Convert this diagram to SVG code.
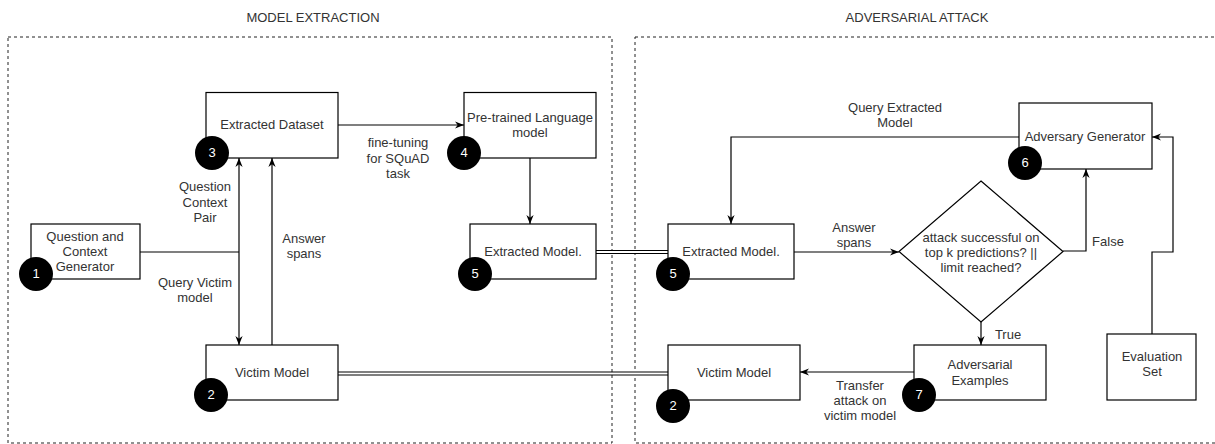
<svg xmlns="http://www.w3.org/2000/svg" width="1215" height="444" viewBox="0 0 1215 444">
<style>
text{font-family:"Liberation Sans",Arial,sans-serif;font-size:13px;fill:#333;text-anchor:middle}
.box{fill:#fff;stroke:#000;stroke-width:1.2}
.frame{fill:none;stroke:#222;stroke-width:1;stroke-dasharray:3 3}
.badge circle{fill:#000}
.badge text{fill:#fff}
.c{fill:none;stroke:#000;stroke-width:1.2}
.dbl{fill:none;stroke:#000;stroke-width:4}
.dblw{fill:none;stroke:#fff;stroke-width:1.8}
</style>
<defs>
<marker id="ar" viewBox="0 0 10 10" markerWidth="9" markerHeight="9" refX="10" refY="5" orient="auto" markerUnits="userSpaceOnUse">
<path d="M0,1 L10,5 L0,9 L3,5 z" fill="#000"/>
</marker>
</defs>
<rect width="1215" height="444" fill="#fff"/>

<g id="frames">
<text x="313" y="22">MODEL EXTRACTION</text>
<rect class="frame" x="8" y="37" width="604" height="406"/>
<text x="917" y="22">ADVERSARIAL ATTACK</text>
<rect class="frame" x="635" y="37" width="600" height="406"/>
</g>

<g id="connectors">
<path class="c" d="M140,252 H239"/>
<path class="c" d="M239,252 V158" marker-end="url(#ar)"/>
<path class="c" d="M239,252 V345" marker-end="url(#ar)"/>
<path class="c" d="M272,345 V158" marker-end="url(#ar)"/>
<path class="c" d="M338,125 H464" marker-end="url(#ar)"/>
<path class="c" d="M530,158 V224" marker-end="url(#ar)"/>
<path class="dbl" d="M596,252 H668"/><path class="dblw" d="M596,252 H668"/>
<path class="dbl" d="M338,373.5 H668"/><path class="dblw" d="M338,373.5 H668"/>
<path class="c" d="M1019,137 H731 V224" marker-end="url(#ar)"/>
<path class="c" d="M794,252 H899" marker-end="url(#ar)"/>
<path class="c" d="M1063,251 H1086 V169" marker-end="url(#ar)"/>
<path class="c" d="M981,322 V345" marker-end="url(#ar)"/>
<path class="c" d="M914,372 H800" marker-end="url(#ar)"/>
<path class="c" d="M1152,334 V252 H1173 V137 H1152" marker-end="url(#ar)"/>
<text x="205" y="191">Question</text>
<text x="205" y="207">Context</text>
<text x="205" y="222">Pair</text>
<text x="195" y="287">Query Victim</text>
<text x="195" y="302">model</text>
<text x="304" y="243">Answer</text>
<text x="304" y="258">spans</text>
<text x="398" y="147">fine-tuning</text>
<text x="398" y="163">for SQuAD</text>
<text x="398" y="178">task</text>
<text x="895" y="112">Query Extracted</text>
<text x="895" y="127">Model</text>
<text x="854" y="232">Answer</text>
<text x="854" y="247">spans</text>
<text x="1108" y="246">False</text>
<text x="1008" y="339">True</text>
<text x="860" y="390">Transfer</text>
<text x="860" y="405">attack on</text>
<text x="860" y="420">victim model</text>
</g>

<g id="n1">
<rect class="box" x="31" y="224" width="109" height="55"/>
<text x="85" y="241">Question and</text>
<text x="85" y="256">Context</text>
<text x="85" y="271">Generator</text>
<g class="badge"><circle cx="36" cy="274" r="17"/><text x="36" y="278">1</text></g>
</g>

<g id="n3">
<rect class="box" x="206" y="92.5" width="132" height="65.5"/>
<text x="272" y="129">Extracted Dataset</text>
<g class="badge"><circle cx="212" cy="153" r="17"/><text x="212" y="157">3</text></g>
</g>

<g id="n2a">
<rect class="box" x="206" y="345" width="132" height="55"/>
<text x="272" y="377">Victim Model</text>
<g class="badge"><circle cx="211" cy="395" r="17"/><text x="211" y="399">2</text></g>
</g>

<g id="n4">
<rect class="box" x="464" y="92.5" width="132" height="65.5"/>
<text x="530" y="122">Pre-trained Language</text>
<text x="530" y="137">model</text>
<g class="badge"><circle cx="464" cy="153" r="17"/><text x="464" y="157">4</text></g>
</g>

<g id="n5a">
<rect class="box" x="470" y="224" width="126" height="55"/>
<text x="533" y="256">Extracted Model.</text>
<g class="badge"><circle cx="475" cy="274" r="17"/><text x="475" y="278">5</text></g>
</g>

<g id="n5b">
<rect class="box" x="668" y="224" width="126" height="55"/>
<text x="731" y="256">Extracted Model.</text>
<g class="badge"><circle cx="673" cy="274" r="17"/><text x="673" y="278">5</text></g>
</g>

<g id="n2b">
<rect class="box" x="668" y="345" width="132" height="55"/>
<text x="734" y="377">Victim Model</text>
<g class="badge"><circle cx="673" cy="406" r="17"/><text x="673" y="410">2</text></g>
</g>

<g id="n6">
<rect class="box" x="1019" y="103" width="133" height="66"/>
<text x="1085" y="141">Adversary Generator</text>
<g class="badge"><circle cx="1025" cy="163" r="17"/><text x="1025" y="167">6</text></g>
</g>

<g id="decision">
<path class="box" d="M981,181 L1063,251.5 L981,322 L899,251.5 Z"/>
<text x="981" y="242">attack successful on</text>
<text x="981" y="257">top k predictions? ||</text>
<text x="981" y="272">limit reached?</text>
</g>

<g id="n7">
<rect class="box" x="914" y="345" width="132" height="55"/>
<text x="980" y="369">Adversarial</text>
<text x="980" y="385">Examples</text>
<g class="badge"><circle cx="919" cy="395" r="17"/><text x="919" y="399">7</text></g>
</g>

<g id="eval">
<rect class="box" x="1107" y="334" width="89" height="66"/>
<text x="1152" y="361">Evaluation</text>
<text x="1152" y="376">Set</text>
</g>
</svg>
